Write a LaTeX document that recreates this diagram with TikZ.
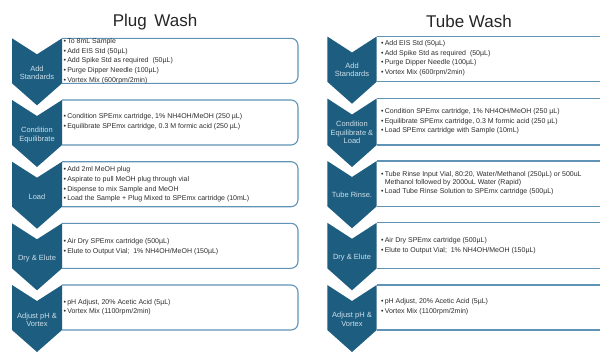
\documentclass[tikz,border=0pt]{standalone}
\usepackage{fontspec}
\setmainfont{Liberation Sans}
\definecolor{chevblue}{RGB}{29,94,128}
\definecolor{boxblue}{RGB}{96,148,182}
\definecolor{labtext}{RGB}{205,222,234}
\definecolor{bodytext}{RGB}{45,45,45}
\newcommand{\mychev}[4]{%
  \fill[chevblue] (#1,#3) -- ({(#1+#2)/2},#3+16) -- (#2,#3) -- (#2,#4) -- ({(#1+#2)/2},#4+22) -- (#1,#4) -- cycle;}
\newcommand{\bl}{\textbullet\,}
\begin{document}
\begin{tikzpicture}[x=1pt,y=-1pt,
  boxline/.style={draw=boxblue,line width=1.1pt,rounded corners=7pt},
  boxlineR/.style={draw=boxblue,line width=1.3pt},
  bodytxt/.style={anchor=west,align=left,inner sep=0pt,text=bodytext,font=\fontsize{7}{9.6}\selectfont},
  labtxt/.style={align=center,inner sep=0pt,text=labtext,font=\fontsize{7.5}{8.4}\selectfont},
  titletxt/.style={inner sep=0pt,text=black!85,font=\fontsize{17}{20}\selectfont}]
\useasboundingbox (0,0) rectangle (600,351);
\clip (0,0) rectangle (600,351);
\fill[white] (0,0) rectangle (600,351);

% titles
\node[titletxt] (t1) at (155,22) {Plug\, Wash};
\node[titletxt] (t2) at (469,21) {Tube Wash};

% ---------- left panel ----------
\draw[boxline] (62,38.3) -- (298,38.3) -- (298,83.3) -- (62,83.3);
\draw[boxline] (62,100) -- (298,100) -- (298,145) -- (62,145);
\draw[boxline] (62,161.7) -- (298,161.7) -- (298,206.7) -- (62,206.7);
\draw[boxline] (62,223.3) -- (298,223.3) -- (298,268.3) -- (62,268.3);
\draw[boxline] (62,285) -- (298,285) -- (298,330) -- (62,330);

\mychev{12}{62}{38.3}{83.3}
\mychev{12}{62}{100}{145}
\mychev{12}{62}{161.7}{206.7}
\mychev{12}{62}{223.3}{268.3}
\mychev{12}{62}{285}{330}

\node[labtxt] (l1) at (37,73) {Add\\Standards};
\node[labtxt] (l2) at (37,135.2) {Condition\\Equilibrate};
\node[labtxt] (l3) at (37,196.7) {Load};
\node[labtxt] (l4) at (37,258.3) {Dry \& Elute};
\node[labtxt] (l5) at (37,320) {Adjust pH \&\\Vortex};

\node[bodytxt] (b1) at (63.5,61) {\bl To 8mL Sample\\\bl Add EIS Std (50µL)\\\bl Add Spike Std as required\ \ (50µL)\\\bl Purge Dipper Needle (100µL)\\\bl Vortex Mix (600rpm/2min)};
\node[bodytxt] (b2) at (63.5,121.7) {\bl Condition SPEmx cartridge, 1\% NH4OH/MeOH (250 µL)\\\bl Equilibrate SPEmx cartridge, 0.3 M formic acid (250 µL)};
\node[bodytxt] (b3) at (63.5,184.5) {\bl Add 2ml MeOH plug\\\bl Aspirate to pull MeOH plug through vial\\\bl Dispense to mix Sample and MeOH\\\bl Load the Sample + Plug Mixed to SPEmx cartridge (10mL)};
\node[bodytxt] (b4) at (63.5,246.4) {\bl Air Dry SPEmx cartridge (500µL)\\\bl Elute to Output Vial;\ \ 1\% NH4OH/MeOH (150µL)};
\node[bodytxt] (b5) at (63.5,307.2) {\bl pH Adjust, 20\% Acetic Acid (5µL)\\\bl Vortex Mix (1100rpm/2min)};

% ---------- right panel ----------
\draw[boxlineR] (376.7,36.5) -- (610,36.5);
\draw[boxlineR] (376.7,81.7) -- (610,81.7);
\draw[boxlineR] (376.7,98.5) -- (610,98.5);
\draw[boxlineR] (376.7,145) -- (610,145);
\draw[boxlineR] (376.7,161) -- (610,161);
\draw[boxlineR] (376.7,206.3) -- (610,206.3);
\draw[boxlineR] (376.7,222.8) -- (610,222.8);
\draw[boxlineR] (376.7,268.3) -- (610,268.3);
\draw[boxlineR] (376.7,285) -- (610,285);
\draw[boxlineR] (376.7,330) -- (610,330);

\mychev{327.3}{376.7}{36.5}{81.7}
\mychev{327.3}{376.7}{98.5}{145}
\mychev{327.3}{376.7}{161}{206.3}
\mychev{327.3}{376.7}{222.8}{268.3}
\mychev{327.3}{376.7}{285}{330}

\node[labtxt] (r1) at (352,70) {Add\\Standards};
\node[labtxt] (r2) at (352,132.5) {Condition\\Equilibrate \&\\Load};
\node[labtxt] (r3) at (352,195) {Tube Rinse.};
\node[labtxt] (r4) at (352,257.3) {Dry \& Elute};
\node[labtxt] (r5) at (352,319.5) {Adjust pH \&\\Vortex};

\node[bodytxt] (s1) at (381,58.3) {\bl Add EIS Std (50µL)\\\bl Add Spike Std as required\ \ (50µL)\\\bl Purge Dipper Needle (100µL)\\\bl Vortex Mix (600rpm/2min)};
\node[bodytxt] (s2) at (381,121.5) {\bl Condition SPEmx cartridge, 1\% NH4OH/MeOH (250 µL)\\\bl Equilibrate SPEmx cartridge, 0.3 M formic acid (250 µL)\\\bl Load SPEmx cartridge with Sample (10mL)};
\node[bodytxt,font=\fontsize{7}{8.8}\selectfont] (s3) at (381,183) {\bl Tube Rinse Input Vial, 80:20, Water/Methanol (250µL) or 500uL\\\phantom{\bl}Methanol followed by 2000uL Water (Rapid)\\\bl Load Tube Rinse Solution to SPEmx cartridge (500µL)};
\node[bodytxt] (s4) at (381,245.7) {\bl Air Dry SPEmx cartridge (500µL)\\\bl Elute to Output Vial;\ \ 1\% NH4OH/MeOH (150µL)};
\node[bodytxt] (s5) at (381,306.7) {\bl pH Adjust, 20\% Acetic Acid (5µL)\\\bl Vortex Mix (1100rpm/2min)};
\end{tikzpicture}
\end{document}
